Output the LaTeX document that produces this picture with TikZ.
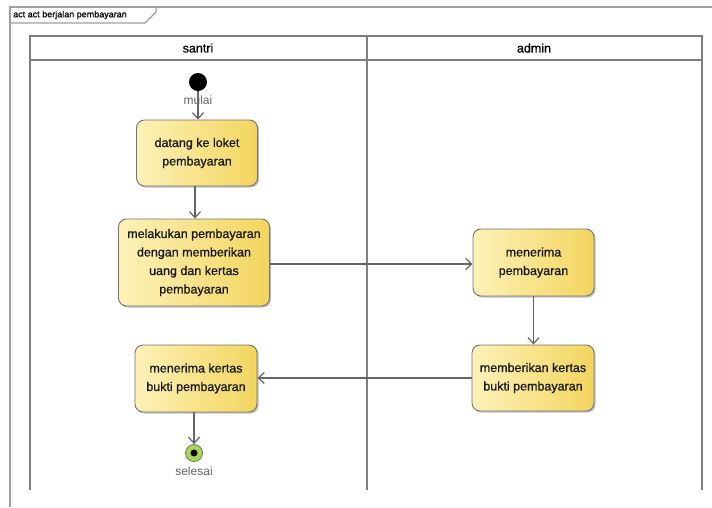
\documentclass[tikz,border=0pt]{standalone}
\usepackage{fontspec}
\setmainfont{Liberation Sans}
\newfontfamily\heavyfont[FakeBold=0.8]{Liberation Sans}
\usetikzlibrary{arrows.meta,shadows}
\definecolor{actL}{HTML}{FCF1B8}
\definecolor{actR}{HTML}{F3D55E}
\definecolor{finG}{HTML}{A6D854}
\definecolor{laneC}{HTML}{7F7F7F}
\definecolor{frameC}{HTML}{A0A0A0}
\tikzset{
  act/.style={draw=black!55, line width=0.9pt, rounded corners=8pt,
    left color=actL, right color=actR, align=center, text=black!90,
    font=\heavyfont\fontsize{12.5}{18.5}\selectfont,
    drop shadow={shadow xshift=1.5pt, shadow yshift=-1.5pt, opacity=0.25, fill=black}},
  flow/.style={draw=black!60, line width=1.2pt, -{Straight Barb[length=6pt,width=11pt]}},
  lane/.style={draw=laneC, line width=1.6pt},
  frm/.style={draw=frameC, line width=1.2pt},
  lbl/.style={text=black!60, font=\fontsize{12}{14}\selectfont, inner sep=0pt},
  hdr/.style={font=\heavyfont\fontsize{12.5}{14}\selectfont, inner sep=0pt}
}
\begin{document}
\begin{tikzpicture}[x=1pt,y=-1pt]
\useasboundingbox (0,0) rectangle (712,507);
\fill[white] (0,0) rectangle (712,507);
% outer frame
\draw[frm] (10,507) -- (10,7) -- (712,7);
\draw[frm] (10,23) -- (145,23) -- (156,12) -- (156,7);
\node[anchor=west, inner sep=0pt, font=\heavyfont\fontsize{9}{10}\selectfont] (title) at (13,15) {act act berjalan pembayaran};
% swimlanes
\draw[lane] (30,490) -- (30,36) -- (702,36) -- (702,490);
\draw[lane] (30,60) -- (702,60);
\draw[lane] (367,36) -- (367,490);
\node[hdr] (h1) at (198,48) {santri};
\node[hdr] (h2) at (534,48) {admin};
% nodes
\node[circle, fill=black, minimum size=18pt, inner sep=0pt] (init) at (198,82) {};
\node[act, minimum width=121pt, minimum height=66pt] (a1) at (197,153) {datang ke loket\\pembayaran};
\node[act, minimum width=151pt, minimum height=87pt] (a2) at (194,262.5) {melakukan pembayaran\\dengan memberikan\\uang dan kertas\\pembayaran};
\node[act, minimum width=121pt, minimum height=67pt] (a3) at (533.5,262.5) {menerima\\pembayaran};
\node[act, minimum width=122pt, minimum height=66pt] (a4) at (533,378) {memberikan kertas\\bukti pembayaran};
\node[act, minimum width=122pt, minimum height=67pt] (a5) at (196,378.5) {menerima kertas\\bukti pembayaran};
\node[circle, draw=black!55, line width=0.8pt, fill=finG, minimum size=17pt, inner sep=0pt] (fin) at (194,453) {};
\node[circle, fill=black, minimum size=7pt, inner sep=0pt] (finc) at (fin) {};
% connectors
\draw[flow] (init) -- (init |- a1.north);
\draw[flow] (a1.south -| 195,0) -- (195,0 |- a2.north);
\draw[flow] (a2.east |- 0,264) -- (a3.west |- 0,264);
\draw[flow] (a3.south) -- (a3.south |- a4.north);
\draw[flow] (a4.west) -- (a4.west -| a5.east);
\draw[flow] (a5.south -| fin) -- (fin.north);
% labels
\node[lbl] (l1) at (198,100) {mulai};
\node[lbl] (l2) at (194,471) {selesai};
\end{tikzpicture}
\end{document}
